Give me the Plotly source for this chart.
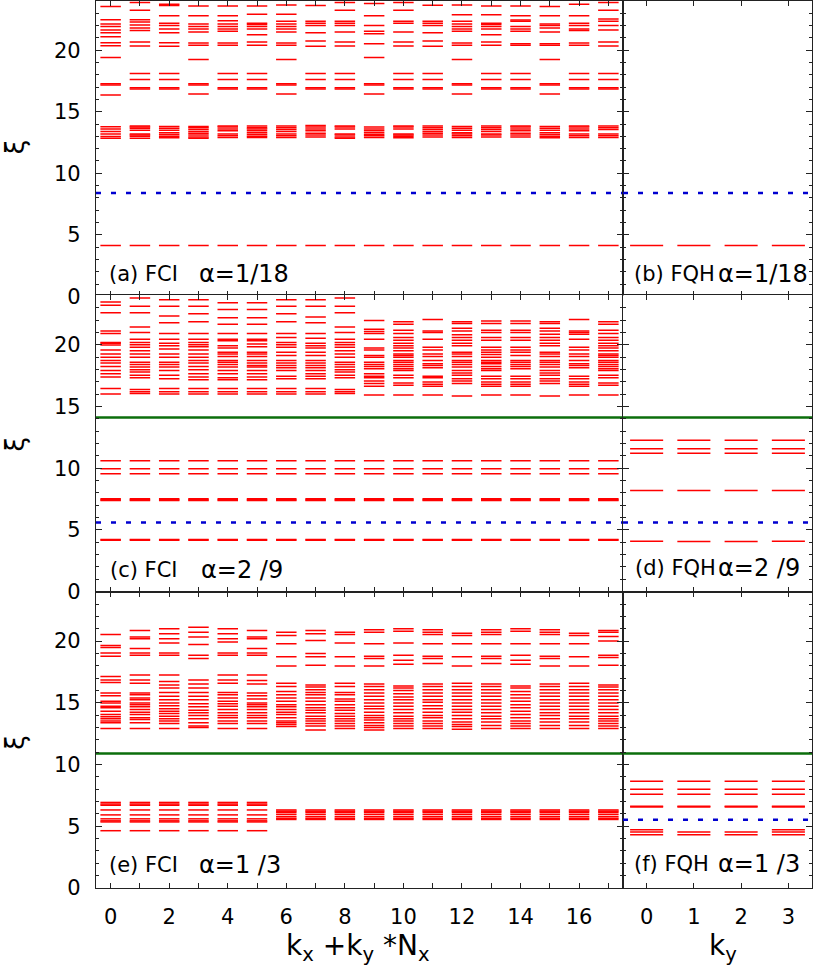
import plotly.graph_objects as go

# entanglement spectrum levels (xi) per momentum sector
fci_118 = [
    [23.55, 22.48, 22.13, 21.92, 21.65, 21.41, 21.09, 20.61, 20.37, 19.41, 17.28, 17.18, 16.37, 13.79, 13.6, 13.39, 13.2, 12.99, 12.85, 4.13],
    [23.87, 23.25, 22.48, 22.29, 22.05, 21.81, 21.6, 20.67, 20.35, 18.1, 17.62, 16.95, 16.85, 13.85, 13.75, 13.65, 13.5, 13.2, 13.1, 13.0, 12.85, 4.13],
    [23.73, 23.63, 22.8, 22.19, 22.0, 21.73, 21.41, 20.61, 20.32, 18.1, 17.62, 16.95, 16.85, 13.8, 13.65, 13.5, 13.3, 13.15, 13.0, 12.88, 4.13],
    [23.6, 22.8, 22.13, 21.92, 21.73, 21.47, 20.59, 20.4, 19.25, 17.28, 17.18, 16.45, 13.8, 13.7, 13.55, 13.4, 13.25, 13.1, 12.95, 12.85, 4.13],
    [23.6, 22.8, 22.4, 22.13, 21.92, 21.73, 21.55, 20.59, 20.4, 18.1, 17.62, 16.95, 16.85, 13.85, 13.75, 13.6, 13.45, 13.2, 13.05, 12.9, 4.13],
    [23.6, 22.93, 22.19, 22.08, 21.92, 21.73, 21.25, 20.67, 20.4, 18.1, 17.62, 16.95, 16.85, 13.85, 13.7, 13.6, 13.45, 13.3, 13.15, 13.0, 12.9, 4.13],
    [23.68, 22.93, 22.35, 22.13, 21.92, 21.73, 21.47, 20.59, 20.4, 19.25, 17.28, 17.18, 16.45, 13.85, 13.7, 13.55, 13.4, 13.2, 13.05, 12.9, 4.13],
    [23.63, 22.35, 22.19, 22.0, 21.41, 20.75, 20.32, 18.1, 17.62, 16.95, 16.85, 13.88, 13.75, 13.6, 13.45, 13.25, 13.1, 12.95, 4.13],
    [23.87, 23.25, 22.35, 22.19, 22.0, 21.47, 20.67, 20.35, 18.1, 17.62, 16.95, 16.85, 13.85, 13.75, 13.6, 13.2, 13.1, 12.95, 12.85, 4.13],
    [23.79, 22.8, 22.0, 21.55, 21.33, 20.53, 19.41, 17.28, 17.18, 16.45, 13.75, 13.6, 13.45, 13.3, 13.15, 13.05, 12.9, 4.13],
    [23.87, 23.25, 22.35, 22.19, 21.47, 20.67, 20.35, 18.1, 17.62, 16.95, 16.85, 13.85, 13.75, 13.6, 13.2, 13.1, 13.0, 12.88, 4.13],
    [23.65, 22.35, 22.19, 22.0, 21.41, 20.75, 20.32, 18.1, 17.62, 16.95, 16.85, 13.85, 13.7, 13.55, 13.4, 13.25, 13.1, 12.95, 4.13],
    [23.68, 22.88, 22.35, 22.13, 21.92, 21.73, 21.55, 20.59, 20.4, 19.25, 17.28, 17.18, 16.45, 13.8, 13.65, 13.5, 13.3, 13.2, 13.05, 12.9, 4.13],
    [23.6, 22.88, 22.19, 22.08, 21.92, 21.73, 21.25, 20.67, 20.4, 18.1, 17.62, 16.95, 16.85, 13.85, 13.7, 13.55, 13.4, 13.2, 13.1, 12.95, 4.13],
    [23.6, 22.8, 22.45, 22.35, 21.92, 21.73, 21.55, 20.53, 20.4, 18.1, 17.62, 16.95, 16.85, 13.85, 13.75, 13.6, 13.45, 13.25, 13.1, 12.95, 4.13],
    [23.55, 22.8, 22.13, 22.0, 21.81, 21.47, 20.53, 20.4, 19.25, 17.28, 17.18, 16.45, 13.8, 13.65, 13.5, 13.3, 13.15, 13.0, 12.88, 4.13],
    [23.73, 22.8, 22.19, 22.0, 21.73, 21.6, 20.59, 20.4, 18.1, 17.62, 16.95, 16.85, 13.85, 13.75, 13.6, 13.45, 13.2, 13.05, 12.9, 4.13],
    [23.87, 23.25, 22.53, 22.35, 22.0, 21.65, 20.67, 20.35, 18.1, 17.62, 16.95, 16.85, 13.85, 13.7, 13.55, 13.2, 13.05, 12.9, 4.13],
]
fqh_118 = [[4.13], [4.13], [4.13], [4.13]]

fci_29_low = [10.6, 9.95, 9.55, 7.52, 7.44, 7.38, 4.22, 4.16]
fci_29 = [
    [23.47, 23.2, 22.59, 21.12, 20.91, 20.19, 20.11, 19.97, 19.57, 19.25, 18.99, 18.72, 18.51, 18.24, 17.92, 17.65, 17.39, 16.45, 16.0],
    [23.79, 23.12, 22.59, 21.44, 20.99, 20.45, 20.19, 20.0, 19.79, 19.52, 19.25, 18.99, 18.59, 18.4, 18.19, 17.97, 17.79, 17.52, 17.33, 16.37, 16.19, 16.05],
    [23.65, 23.12, 22.32, 21.79, 20.91, 20.45, 20.11, 19.92, 19.65, 19.25, 18.99, 18.59, 18.4, 18.19, 17.92, 17.52, 17.25, 16.45, 16.19, 16.0],
    [23.65, 23.12, 22.51, 21.87, 20.91, 20.45, 20.19, 20.0, 19.84, 19.57, 19.25, 18.99, 18.72, 18.51, 18.24, 17.97, 17.65, 17.39, 17.17, 16.45, 16.19, 16.0],
    [23.39, 22.85, 22.19, 21.65, 20.91, 20.45, 20.32, 19.92, 19.73, 19.39, 19.25, 19.04, 18.72, 18.59, 18.4, 18.19, 17.92, 17.65, 17.33, 17.17, 16.45, 16.19, 16.0],
    [23.39, 22.85, 22.19, 21.65, 20.91, 20.45, 20.32, 20.05, 19.84, 19.39, 19.25, 19.04, 18.72, 18.51, 18.32, 18.19, 17.92, 17.65, 17.39, 17.17, 16.45, 16.19, 16.0],
    [23.65, 23.12, 22.51, 21.87, 20.91, 20.59, 20.19, 20.0, 19.79, 19.39, 19.12, 18.72, 18.51, 18.32, 18.13, 17.92, 17.44, 17.25, 16.45, 16.19, 16.0],
    [23.65, 23.12, 22.24, 21.79, 20.91, 20.53, 20.11, 19.92, 19.73, 19.39, 19.12, 18.72, 18.51, 18.32, 18.13, 17.92, 17.65, 17.44, 17.25, 16.45, 16.19, 16.0],
    [23.79, 23.12, 22.59, 21.44, 20.99, 20.45, 20.19, 20.0, 19.79, 19.52, 19.25, 18.99, 18.59, 18.4, 18.19, 17.97, 17.79, 17.52, 17.33, 16.37, 16.19, 16.05],
    [21.97, 21.25, 21.07, 20.91, 20.45, 19.73, 19.57, 19.12, 18.99, 18.59, 18.4, 18.24, 18.05, 17.65, 17.44, 17.33, 17.07, 16.85, 16.64, 15.92],
    [21.87, 21.65, 21.17, 20.91, 20.59, 20.37, 20.11, 19.92, 19.73, 19.52, 19.25, 19.12, 18.99, 18.72, 18.59, 18.4, 18.24, 18.05, 17.92, 17.52, 17.33, 16.91, 16.72, 15.92],
    [22.05, 21.12, 20.99, 20.45, 19.79, 19.57, 19.25, 19.04, 18.72, 18.45, 18.32, 18.13, 17.44, 17.33, 16.99, 16.8, 16.64, 15.92],
    [21.87, 21.71, 21.33, 21.12, 20.8, 20.59, 20.37, 20.11, 19.92, 19.39, 19.25, 19.04, 18.72, 18.59, 18.4, 18.19, 17.92, 17.71, 17.52, 17.25, 17.07, 16.85, 15.84],
    [21.92, 21.71, 21.17, 20.99, 20.59, 20.37, 19.79, 19.57, 19.39, 19.2, 18.99, 18.72, 18.59, 18.45, 18.24, 18.05, 17.92, 17.44, 17.25, 16.99, 16.8, 16.64, 15.92],
    [21.92, 21.71, 21.17, 20.99, 20.59, 20.37, 19.79, 19.57, 19.39, 19.12, 18.72, 18.59, 18.4, 18.24, 18.05, 17.44, 17.25, 16.99, 16.8, 16.64, 15.92],
    [21.87, 21.71, 21.33, 21.12, 20.85, 20.59, 20.37, 20.11, 19.92, 19.39, 19.25, 19.04, 18.72, 18.59, 18.4, 18.19, 17.92, 17.71, 17.52, 17.25, 17.07, 16.85, 15.84],
    [22.05, 21.12, 20.99, 20.85, 20.45, 19.79, 19.57, 19.25, 19.04, 18.72, 18.45, 18.32, 18.13, 17.44, 17.25, 16.99, 16.8, 16.64, 15.92],
    [21.87, 21.65, 21.17, 20.91, 20.59, 20.37, 20.11, 19.92, 19.73, 19.52, 19.25, 19.12, 18.99, 18.72, 18.59, 18.4, 18.24, 18.05, 17.92, 17.52, 17.33, 16.91, 16.72, 15.92],
]
fqh_29 = [
    [12.27, 11.57, 11.22, 8.19, 4.08],
    [12.27, 11.57, 11.22, 8.19, 4.06],
    [12.27, 11.57, 11.22, 8.19, 4.06],
    [12.27, 11.57, 11.22, 8.19, 4.08],
]

fci_13_low_a = [6.93, 6.8, 6.7, 6.32, 5.92, 5.6, 5.44, 5.35, 4.64]
fci_13_low_b = [6.32, 6.22, 6.13, 5.97, 5.79, 5.65, 5.55]
fci_13 = [
    [20.53, 19.65, 19.47, 19.04, 18.77, 17.12, 16.85, 16.64, 15.79, 15.57, 15.12, 14.99, 14.72, 14.59, 14.32, 14.05, 13.87, 13.71, 13.52, 13.39, 12.91],
    [20.85, 20.32, 20.19, 19.39, 19.04, 18.85, 17.25, 16.85, 16.59, 15.79, 15.65, 15.39, 15.25, 14.99, 14.85, 14.67, 14.45, 14.24, 14.05, 13.79, 13.65, 13.39, 12.91],
    [20.99, 20.59, 20.19, 19.84, 19.04, 18.85, 17.25, 16.72, 16.45, 16.19, 15.84, 15.52, 15.25, 14.99, 14.77, 14.51, 14.32, 14.13, 13.92, 13.71, 13.52, 13.33, 12.91],
    [21.12, 20.72, 20.32, 19.73, 18.85, 18.59, 16.85, 16.53, 16.19, 15.84, 15.52, 15.25, 14.93, 14.67, 14.4, 14.19, 13.97, 13.71, 13.39, 13.12, 12.99],
    [20.99, 20.59, 20.19, 19.92, 19.04, 18.85, 17.25, 16.85, 16.59, 15.84, 15.65, 15.39, 15.12, 14.93, 14.72, 14.45, 14.19, 13.97, 13.79, 13.52, 13.33, 12.91],
    [20.85, 20.32, 20.19, 19.39, 19.04, 18.85, 17.25, 16.8, 16.53, 15.79, 15.57, 15.31, 14.99, 14.85, 14.67, 14.45, 14.19, 13.97, 13.79, 13.52, 13.33, 12.91],
    [20.72, 20.45, 19.79, 18.72, 17.97, 16.59, 16.32, 15.92, 15.65, 15.39, 15.12, 14.85, 14.67, 14.45, 14.24, 14.05, 13.79, 13.52, 13.39, 13.25, 13.07],
    [20.85, 20.59, 20.05, 18.99, 18.72, 18.05, 16.45, 16.27, 16.05, 15.84, 15.65, 15.39, 15.12, 14.85, 14.59, 14.4, 14.19, 13.92, 13.71, 13.52, 13.33, 13.12, 12.8],
    [20.72, 20.53, 19.84, 18.72, 17.97, 16.59, 16.32, 15.84, 15.65, 15.31, 15.12, 14.85, 14.59, 14.4, 14.13, 13.92, 13.71, 13.52, 13.33, 13.12, 12.91],
    [20.91, 20.72, 19.79, 18.77, 18.59, 17.97, 16.53, 16.32, 16.05, 15.79, 15.52, 15.25, 14.99, 14.72, 14.51, 14.24, 13.97, 13.79, 13.6, 13.39, 13.17, 12.99, 12.8],
    [20.99, 20.8, 19.84, 18.85, 18.45, 18.13, 16.37, 16.19, 16.0, 15.73, 15.47, 15.25, 14.99, 14.72, 14.45, 14.19, 13.92, 13.71, 13.52, 13.33, 13.12, 12.91],
    [20.91, 20.72, 20.53, 19.79, 18.77, 18.59, 18.19, 16.53, 16.32, 16.05, 15.79, 15.52, 15.25, 15.04, 14.77, 14.51, 14.24, 13.97, 13.79, 13.52, 13.33, 13.12, 12.91],
    [20.64, 20.45, 19.79, 18.72, 17.97, 16.59, 16.32, 16.05, 15.79, 15.52, 15.25, 14.99, 14.72, 14.45, 14.24, 13.97, 13.71, 13.44, 13.25, 13.07, 12.85],
    [20.91, 20.72, 20.53, 19.79, 18.77, 18.59, 18.19, 16.53, 16.32, 16.05, 15.79, 15.52, 15.25, 14.99, 14.72, 14.45, 14.19, 13.92, 13.71, 13.44, 13.17, 12.91],
    [20.99, 20.8, 19.79, 18.85, 18.45, 18.13, 16.37, 16.19, 15.92, 15.65, 15.39, 15.12, 14.85, 14.59, 14.32, 14.05, 13.79, 13.52, 13.33, 13.12, 12.91],
    [20.91, 20.72, 20.53, 19.79, 18.77, 18.59, 17.97, 16.53, 16.32, 16.05, 15.79, 15.52, 15.25, 14.99, 14.72, 14.45, 14.19, 13.97, 13.71, 13.44, 13.17, 12.91],
    [20.64, 20.45, 19.79, 18.72, 17.97, 16.59, 16.32, 16.05, 15.79, 15.52, 15.25, 14.99, 14.72, 14.45, 14.19, 13.92, 13.71, 13.44, 13.17, 12.91],
    [20.85, 20.72, 20.37, 20.0, 18.85, 18.67, 18.05, 16.45, 16.27, 16.05, 15.79, 15.52, 15.25, 14.99, 14.72, 14.45, 14.19, 13.92, 13.71, 13.52, 13.33, 13.12, 12.91],
]
fqh_13 = [
    [8.64, 8.0, 7.6, 6.62, 6.55, 4.72, 4.53, 4.32],
    [8.64, 8.0, 7.6, 6.62, 6.55, 4.53, 4.32],
    [8.64, 8.0, 7.6, 6.62, 6.55, 4.53, 4.32],
    [8.64, 8.0, 7.6, 6.62, 6.55, 4.72, 4.53, 4.32],
]

# reference lines: blue dotted (None = absent) and green solid
blue_lines = [8.4, 8.4, 5.6, 5.6, None, 5.52]
green_lines = [None, None, 14.1, 14.1, 10.9, 10.9]

panel_names = ["(a) FCI", "(b) FQH", "(c) FCI", "(d) FQH", "(e) FCI", "(f) FQH"]
alpha_texts = ["α=1/18", "α=1/18", "α=2 /9", "α=2 /9", "α=1 /3", "α=1 /3"]

left_labels = [0, 2, 4, 6, 8, 10, 12, 14, 16]
right_labels = [0, 1, 2, 3]

W, H = 814, 980
FONT = "DejaVu Sans"
RED = "#ff0000"
BLUE = "#0000d0"
GREEN = "#0b6e0b"
AXC = "#222222"


def px(x):
    return x / W


def py(y):
    return 1 - y / H


def segments(levels_by_k, half=0.35):
    xs, ys = [], []
    for k, levels in enumerate(levels_by_k):
        for v in levels:
            xs += [k - half, k + half, None]
            ys += [v, v, None]
    return xs, ys


panels = [
    fci_118,
    fqh_118,
    [lv + fci_29_low for lv in fci_29],
    fqh_29,
    [lv + (fci_13_low_a if k < 6 else fci_13_low_b) for k, lv in enumerate(fci_13)],
    fqh_13,
]

x_dom = [[96 / W, 623 / W], [623 / W, 812 / W]]
y_dom = [[py(300), py(1)], [py(599), py(299)], [py(899), py(599)]]

fig = go.Figure()

for i, data in enumerate(panels):
    n = i + 1
    xa = "x" if n == 1 else f"x{n}"
    ya = "y" if n == 1 else f"y{n}"
    right = i % 2 == 1
    row = i // 2
    xr = [-0.5, 3.5] if right else [-0.5, 17.5]

    xs, ys = segments(data)
    fig.add_trace(go.Scatter(x=xs, y=ys, mode="lines", xaxis=xa, yaxis=ya,
                             line=dict(color=RED, width=1.5),
                             hoverinfo="skip", showlegend=False))
    if blue_lines[i] is not None:
        fig.add_trace(go.Scatter(x=xr, y=[blue_lines[i]] * 2, mode="lines", xaxis=xa, yaxis=ya,
                                 line=dict(color=BLUE, width=2.5, dash="5px,10px"),
                                 hoverinfo="skip", showlegend=False))
    if green_lines[i] is not None:
        fig.add_trace(go.Scatter(x=xr, y=[green_lines[i]] * 2, mode="lines", xaxis=xa, yaxis=ya,
                                 line=dict(color=GREEN, width=2.5),
                                 hoverinfo="skip", showlegend=False))

    common = dict(showline=True, linecolor=AXC, linewidth=1.3, mirror="allticks",
                  ticks="inside", ticklen=5, tickwidth=1.2, tickcolor=AXC,
                  showgrid=False, zeroline=False,
                  tickfont=dict(family=FONT, size=21, color="black"))
    fig.layout[f"xaxis{n if n > 1 else ''}"] = dict(
        common, domain=x_dom[1 if right else 0], range=xr, anchor=ya,
        tickmode="array", tickvals=right_labels if right else left_labels,
        showticklabels=(row == 2), ticklabelstandoff=10,
        minor=dict(tickmode="linear", tick0=0, dtick=1, ticks="inside", ticklen=5,
                   tickcolor=AXC, showgrid=False))
    fig.layout[f"yaxis{n if n > 1 else ''}"] = dict(
        common, domain=y_dom[row], range=[0, 24], anchor=xa,
        tick0=0, dtick=5, ticklen=6, showticklabels=not right,
        ticklabelstandoff=10,
        minor=dict(dtick=1, tick0=0, ticks="inside", ticklen=3, tickcolor=AXC, showgrid=False))

annotations = []
label_pos = [(107, 197, 277), (632, 716, 277), (108, 199, 577), (633, 716, 575), (107, 197, 876), (632, 716, 875)]
for i, (x1, x2, yc) in enumerate(label_pos):
    annotations.append(dict(x=px(x1), y=py(yc), xref="paper", yref="paper", xanchor="left", yanchor="middle",
                            text=panel_names[i], showarrow=False, font=dict(family=FONT, size=21, color="black")))
    annotations.append(dict(x=px(x2), y=py(yc), xref="paper", yref="paper", xanchor="left", yanchor="middle",
                            text=alpha_texts[i], showarrow=False, font=dict(family=FONT, size=24, color="black")))
for yc in [149, 450, 752]:
    annotations.append(dict(x=px(15), y=py(yc), xref="paper", yref="paper", xanchor="center", yanchor="middle",
                            textangle=-90, text="ξ", showarrow=False,
                            font=dict(family=FONT, size=26, color="black")))
annotations.append(dict(x=px(357), y=py(938), xref="paper", yref="paper", xanchor="center", yanchor="top",
                        text="k<sub>x</sub> +k<sub>y</sub> *N<sub>x</sub>", showarrow=False,
                        font=dict(family=FONT, size=28, color="black")))
annotations.append(dict(x=px(723), y=py(938), xref="paper", yref="paper", xanchor="center", yanchor="top",
                        text="k<sub>y</sub>", showarrow=False,
                        font=dict(family=FONT, size=28, color="black")))

fig.update_layout(width=W, height=H, margin=dict(l=0, r=0, t=0, b=0),
                  paper_bgcolor="white", plot_bgcolor="white",
                  font=dict(family=FONT, color="black"),
                  annotations=annotations)

# drop the default page margin so the figure sits at the window's top-left corner
fig.write_html("out.html", config={"displayModeBar": False},
               post_script="document.body.style.margin = '0px';")
